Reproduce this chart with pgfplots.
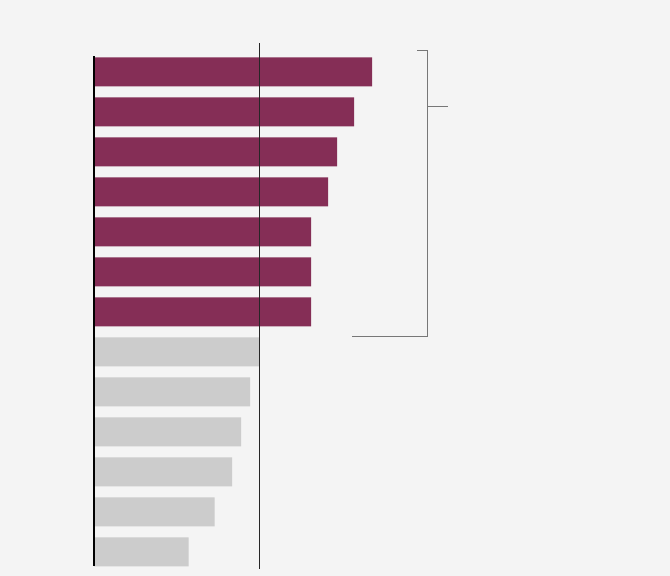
\documentclass[border=0pt]{standalone}
\usepackage{pgfplots}
\pgfplotsset{compat=1.18}
\definecolor{bgc}{HTML}{F4F4F4}
\definecolor{plum}{HTML}{852E56}
\definecolor{lgrey}{HTML}{CCCCCC}
\definecolor{brk}{HTML}{777777}
\begin{document}
\begin{tikzpicture}
\fill[bgc] (0,0) rectangle (670pt,576pt);
\begin{axis}[at={(0,0)}, anchor=south west, scale only axis,
  width=670pt, height=576pt, hide axis,
  xmin=-94, xmax=576, ymin=0, ymax=576, y dir=reverse,
  xbar, bar width=29pt, bar shift=0pt, clip=false]
\addplot[fill=plum, draw=none] coordinates {
 (278,71.8) (260,111.8) (243,151.8) (234,191.8) (217,231.8) (217,271.8) (217,311.8)};
\addplot[fill=lgrey, draw=none] coordinates {
 (165,351.8) (156,391.8) (147,431.8) (138,471.8) (120.5,511.8) (94.5,551.8)};
\draw[black, line width=2pt] (axis cs:0,56) -- (axis cs:0,566);
\draw[black!85, line width=0.9pt] (axis cs:165,43) -- (axis cs:165,569);
\draw[brk, line width=0.9pt] (axis cs:323,50.3) -- (axis cs:333,50.3) -- (axis cs:333,336) -- (axis cs:258,336);
\draw[brk, line width=0.9pt] (axis cs:333,106.3) -- (axis cs:354,106.3);
\end{axis}
\end{tikzpicture}
\end{document}
